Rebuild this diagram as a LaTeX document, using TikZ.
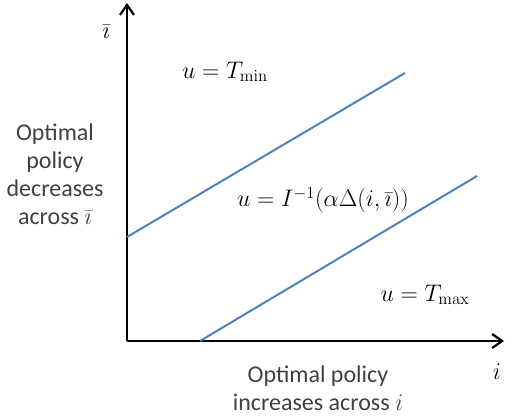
\RequirePackage{fix-cm}
\documentclass[tikz,border=0pt]{standalone}
\usepackage{amsmath, amssymb}
\usepackage[no-math]{fontspec}
\setmainfont{Carlito}
\usepackage{tikz}
\usetikzlibrary{arrows.meta, calc, positioning}
\usepackage{xcolor}
\definecolor{lineblue}{HTML}{4F81BD}

\begin{document}
\begin{tikzpicture}[x=1pt, y=1pt,
    axis/.style={line width=2.4pt, -{Straight Barb[length=10pt, width=14pt, line width=2.2pt]}},
    bound/.style={lineblue, line width=2pt},
    lbl/.style={inner sep=0pt, font=\fontsize{24}{28}\selectfont},
    mth/.style={inner sep=0pt, font=\fontsize{24}{28}\selectfont}]
    \useasboundingbox (0,0) rectangle (506,420);

    % 坐标轴
    \coordinate (O) at (127,79);
    \coordinate (ytip) at (127,417);
    \coordinate (xtip) at (504,79);
    \draw[axis] (O) -- (ytip);
    \draw[axis] (O) -- (xtip);
    \node[mth] (ibar) at (106,388) {$\bar{\imath}$};
    \node[mth] (iaxis) at (497,48) {$i$};

    % 两条分界线
    \coordinate (a1) at (127,183);
    \coordinate (a2) at (405,347);
    \coordinate (b1) at (200,79);
    \coordinate (b2) at (477,244);
    \draw[bound] (a1) -- (a2);
    \draw[bound] (b1) -- (b2);

    % 三个区域
    \node[mth, anchor=west] (umin) at (182,348) {$u = T_{\min}$};
    \node[mth] (umid) at (323,220) {$u = I^{-1}(\alpha\Delta(i,\bar{\imath}))$};
    \node[mth] (umax) at (425,125) {$u = T_{\max}$};

    % 说明文字
    \node[lbl, align=center, text=black!75] (left) at (55,246)
        {Optimal\\policy\\decreases\\across $\bar{\imath}$};
    \node[lbl, align=center, text=black!75] (bottom) at (318,32)
        {Optimal policy\\increases across $i$};
\end{tikzpicture}
\end{document}
